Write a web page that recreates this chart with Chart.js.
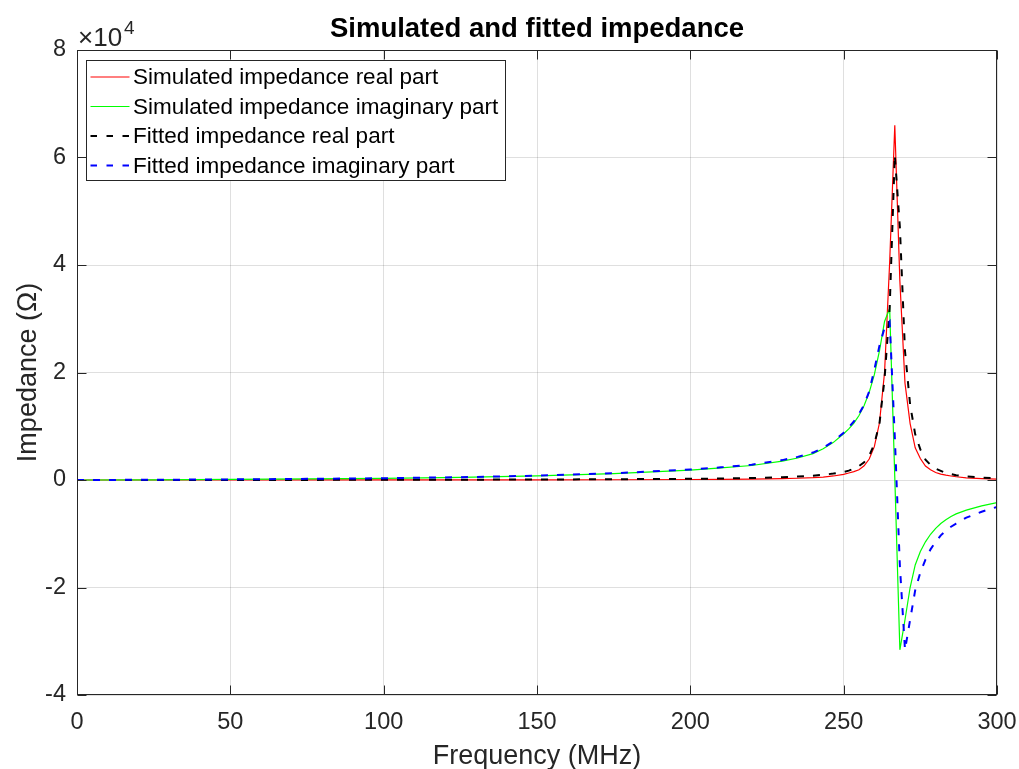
<!DOCTYPE html>
<html>
<head>
<meta charset="utf-8">
<script src="https://cdn.jsdelivr.net/npm/chart.js@4.4.1/dist/chart.umd.min.js"></script>
<style>
  html, body { margin: 0; padding: 0; background: #ffffff; }
  #wrap { width: 1019px; height: 769px; }
</style>
</head>
<body>
<div id="wrap"><canvas id="c" width="1019" height="769"></canvas></div>
<script>
// ---- data ----
const freqMHz = [0,25,50,75,100,125,150,175,200,210,220,230,235,240,243.33,246.67,250,251.67,253.33,255,256.67,258.33,260,261.67,263.33,265,266.67,268.33,270,271.67,273.33,275,276.67,278.33,280,281.67,283.33,285,286.67,290,295,300];
const simReal = [0,0,0,5,10,15,25,45,90,120,160,250,330,430,550,750,1050,1300,1550,1900,2650,3900,6200,10600,20000,40500,66000,37000,18000,10500,6000,4000,2600,1900,1400,1100,900,750,600,400,250,150];
const simImag = [0,40,110,200,320,500,780,1200,1850,2250,2700,3500,4100,4900,5800,7000,8600,9500,10600,12000,13850,16300,19600,24000,29500,31900,500,-31600,-26000,-20000,-15800,-13300,-11500,-10100,-9000,-8100,-7400,-6800,-6300,-5600,-4800,-4200];
const fitReal = [0,0,10,20,40,60,90,140,220,280,370,520,640,800,960,1200,1500,1750,2100,2600,3300,4500,6700,10500,18800,32000,60500,47000,24000,14000,8500,5700,3800,2800,2100,1700,1300,1100,900,650,450,300];
const fitImag = [0,40,110,210,330,520,800,1250,1950,2350,2850,3700,4300,5100,6000,7200,8800,9800,10900,12300,14000,16500,20500,25000,28300,29500,8100,-16000,-31600,-26000,-20500,-17200,-14800,-12900,-11500,-10300,-9400,-8700,-8100,-7000,-5900,-5000];
const seriesLabels = ['Simulated impedance real part','Simulated impedance imaginary part','Fitted impedance real part','Fitted impedance imaginary part'];
const xTickValues = [0,50,100,150,200,250,300];
const yTickValues = [-40000,-20000,0,20000,40000,60000,80000];
const titleText = 'Simulated and fitted impedance';
const xTitle = 'Frequency (MHz)';
const yTitle = 'Impedance (\u03A9)';

const FONT = "'Liberation Sans', Arial, Helvetica, sans-serif";
const AX = '#262626';

const pts = (xs, ys) => xs.map((x, i) => ({x: x, y: ys[i]}));

const DASH = [7, 9];

const datasets = [
  {label: seriesLabels[0], data: pts(freqMHz, simReal), borderColor: '#ff0000', borderWidth: 1.2, order: 4},
  {label: seriesLabels[1], data: pts(freqMHz, simImag), borderColor: '#00ff00', borderWidth: 1.2, order: 3},
  {label: seriesLabels[2], data: pts(freqMHz, fitReal), borderColor: '#000000', borderWidth: 2, borderDash: DASH, order: 2},
  {label: seriesLabels[3], data: pts(freqMHz, fitImag), borderColor: '#0000ff', borderWidth: 2, borderDash: DASH, order: 1}
].map(d => Object.assign({showLine: true, pointRadius: 0, tension: 0, fill: false}, d));

const decor = {
  id: 'decor',
  afterDraw(chart) {
    const {ctx, chartArea: a, scales} = chart;
    const xs = scales.x, ys = scales.y;
    const L = Math.round(a.left) + 0.5, R = Math.round(a.right) - 0.5;
    const T = Math.round(a.top) + 0.5, B = Math.round(a.bottom) - 0.5;
    ctx.save();
    ctx.strokeStyle = AX; ctx.lineWidth = 1; ctx.setLineDash([]);
    // inward tick marks
    const TL = 9;
    ctx.beginPath();
    xTickValues.forEach(v => {
      const p = Math.round(xs.getPixelForValue(v)) + 0.5;
      ctx.moveTo(p, B); ctx.lineTo(p, B - TL);
      ctx.moveTo(p, T); ctx.lineTo(p, T + TL);
    });
    yTickValues.forEach(v => {
      const p = Math.round(ys.getPixelForValue(v)) + 0.5;
      ctx.moveTo(L, p); ctx.lineTo(L + TL, p);
      ctx.moveTo(R, p); ctx.lineTo(R - TL, p);
    });
    ctx.stroke();
    // box
    ctx.strokeRect(L, T, R - L, B - T);

    // title
    ctx.fillStyle = '#000000';
    ctx.font = 'bold 27.5px ' + FONT;
    ctx.textAlign = 'center'; ctx.textBaseline = 'alphabetic';
    ctx.fillText(titleText, (a.left + a.right) / 2, 37);

    // exponent label x10^4
    ctx.fillStyle = AX;
    ctx.textAlign = 'left';
    ctx.font = '26px ' + FONT;
    const base = '\u00D710';
    ctx.fillText(base, 78, 46);
    const w = ctx.measureText(base).width;
    ctx.font = '19px ' + FONT;
    ctx.fillText('4', 78 + w + 2, 34);

    // legend
    const lx0 = 86.5, ly0 = 60.5, lx1 = 505.5, ly1 = 180.5;
    ctx.fillStyle = '#ffffff';
    ctx.fillRect(lx0, ly0, lx1 - lx0, ly1 - ly0);
    ctx.strokeStyle = AX; ctx.lineWidth = 1;
    ctx.strokeRect(lx0, ly0, lx1 - lx0, ly1 - ly0);
    const rows = [77, 106.5, 136, 165.5];
    chart.data.datasets.forEach((ds, i) => {
      const y = rows[i];
      ctx.beginPath();
      ctx.strokeStyle = ds.borderColor;
      ctx.lineWidth = ds.borderDash ? 2 : 1.2;
      ctx.setLineDash(ds.borderDash ? [6.5, 9.5] : []);
      ctx.moveTo(90.5, y); ctx.lineTo(129.5, y);
      ctx.stroke();
      ctx.setLineDash([]);
      ctx.fillStyle = '#000000';
      ctx.font = '22.5px ' + FONT;
      ctx.textAlign = 'left'; ctx.textBaseline = 'middle';
      ctx.fillText(ds.label, 133, y + 1);
    });
    ctx.restore();
  }
};

new Chart(document.getElementById('c'), {
  type: 'scatter',
  data: {datasets: datasets},
  plugins: [decor],
  options: {
    responsive: false,
    animation: false,
    devicePixelRatio: 1,
    layout: {padding: {left: 0, right: 22, top: 50, bottom: 0}},
    plugins: {legend: {display: false}, title: {display: false}, tooltip: {enabled: false}},
    elements: {line: {tension: 0}},
    scales: {
      x: {
        type: 'linear', min: 0, max: 300,
        afterFit(s) { s.height = 74; s.paddingLeft = 0; s.paddingRight = 0; },
        afterBuildTicks(s) { s.ticks = xTickValues.map(v => ({value: v})); },
        ticks: {color: AX, font: {family: FONT, size: 23.5}, padding: 13.5, maxRotation: 0, autoSkip: false},
        grid: {color: 'rgba(38,38,38,0.15)', lineWidth: 1, drawTicks: false},
        border: {display: false},
        title: {display: true, text: xTitle, color: AX, font: {family: FONT, size: 27}, padding: {top: 0, bottom: -4}}
      },
      y: {
        type: 'linear', min: -40000, max: 80000,
        afterFit(s) { s.width = 77; s.paddingTop = 0; s.paddingBottom = 0; },
        afterBuildTicks(s) { s.ticks = yTickValues.map(v => ({value: v})); },
        ticks: {color: AX, font: {family: FONT, size: 23.5}, padding: 11, callback: v => String(v / 10000)},
        grid: {color: 'rgba(38,38,38,0.15)', lineWidth: 1, drawTicks: false},
        border: {display: false},
        title: {display: true, text: yTitle, color: AX, font: {family: FONT, size: 27}, padding: {top: 12, bottom: 0}}
      }
    }
  }
});
</script>
</body>
</html>
